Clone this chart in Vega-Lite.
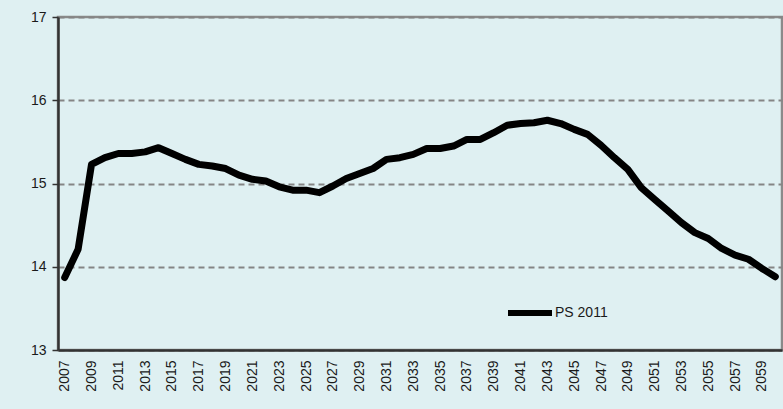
{
  "$schema": "https://vega.github.io/schema/vega-lite/v6.json",
  "width": 724,
  "height": 333,
  "autosize": {"type": "none"},
  "padding": {"left": 58, "top": 17, "right": 1, "bottom": 59},
  "background": "#dff0f2",
  "config": {
    "view": {"stroke": "#8a8a8a", "strokeWidth": 2.5},
    "font": "Liberation Sans",
    "axis": {"labelFont": "Liberation Sans", "labelFontSize": 14, "labelColor": "#1a1a1a", "title": null}
  },
  "data": {
    "values": [
      {"year": 2007, "value": 13.87, "series": "PS 2011"},
      {"year": 2008, "value": 14.21, "series": "PS 2011"},
      {"year": 2009, "value": 15.23, "series": "PS 2011"},
      {"year": 2010, "value": 15.31, "series": "PS 2011"},
      {"year": 2011, "value": 15.36, "series": "PS 2011"},
      {"year": 2012, "value": 15.36, "series": "PS 2011"},
      {"year": 2013, "value": 15.38, "series": "PS 2011"},
      {"year": 2014, "value": 15.43, "series": "PS 2011"},
      {"year": 2015, "value": 15.36, "series": "PS 2011"},
      {"year": 2016, "value": 15.29, "series": "PS 2011"},
      {"year": 2017, "value": 15.23, "series": "PS 2011"},
      {"year": 2018, "value": 15.21, "series": "PS 2011"},
      {"year": 2019, "value": 15.18, "series": "PS 2011"},
      {"year": 2020, "value": 15.1, "series": "PS 2011"},
      {"year": 2021, "value": 15.05, "series": "PS 2011"},
      {"year": 2022, "value": 15.03, "series": "PS 2011"},
      {"year": 2023, "value": 14.96, "series": "PS 2011"},
      {"year": 2024, "value": 14.92, "series": "PS 2011"},
      {"year": 2025, "value": 14.92, "series": "PS 2011"},
      {"year": 2026, "value": 14.89, "series": "PS 2011"},
      {"year": 2027, "value": 14.97, "series": "PS 2011"},
      {"year": 2028, "value": 15.06, "series": "PS 2011"},
      {"year": 2029, "value": 15.12, "series": "PS 2011"},
      {"year": 2030, "value": 15.18, "series": "PS 2011"},
      {"year": 2031, "value": 15.29, "series": "PS 2011"},
      {"year": 2032, "value": 15.31, "series": "PS 2011"},
      {"year": 2033, "value": 15.35, "series": "PS 2011"},
      {"year": 2034, "value": 15.42, "series": "PS 2011"},
      {"year": 2035, "value": 15.42, "series": "PS 2011"},
      {"year": 2036, "value": 15.45, "series": "PS 2011"},
      {"year": 2037, "value": 15.53, "series": "PS 2011"},
      {"year": 2038, "value": 15.53, "series": "PS 2011"},
      {"year": 2039, "value": 15.61, "series": "PS 2011"},
      {"year": 2040, "value": 15.7, "series": "PS 2011"},
      {"year": 2041, "value": 15.72, "series": "PS 2011"},
      {"year": 2042, "value": 15.73, "series": "PS 2011"},
      {"year": 2043, "value": 15.76, "series": "PS 2011"},
      {"year": 2044, "value": 15.72, "series": "PS 2011"},
      {"year": 2045, "value": 15.65, "series": "PS 2011"},
      {"year": 2046, "value": 15.59, "series": "PS 2011"},
      {"year": 2047, "value": 15.46, "series": "PS 2011"},
      {"year": 2048, "value": 15.31, "series": "PS 2011"},
      {"year": 2049, "value": 15.17, "series": "PS 2011"},
      {"year": 2050, "value": 14.95, "series": "PS 2011"},
      {"year": 2051, "value": 14.81, "series": "PS 2011"},
      {"year": 2052, "value": 14.67, "series": "PS 2011"},
      {"year": 2053, "value": 14.53, "series": "PS 2011"},
      {"year": 2054, "value": 14.41, "series": "PS 2011"},
      {"year": 2055, "value": 14.34, "series": "PS 2011"},
      {"year": 2056, "value": 14.22, "series": "PS 2011"},
      {"year": 2057, "value": 14.14, "series": "PS 2011"},
      {"year": 2058, "value": 14.09, "series": "PS 2011"},
      {"year": 2059, "value": 13.98, "series": "PS 2011"},
      {"year": 2060, "value": 13.88, "series": "PS 2011"}
    ]
  },
  "mark": {"type": "line", "strokeWidth": 7, "strokeJoin": "round", "strokeCap": "round"},
  "encoding": {
    "x": {
      "field": "year",
      "type": "quantitative",
      "scale": {"domain": [2006.5, 2060.5], "nice": false, "zero": false},
      "axis": {
        "values": [2007, 2009, 2011, 2013, 2015, 2017, 2019, 2021, 2023, 2025, 2027, 2029, 2031, 2033, 2035, 2037, 2039, 2041, 2043, 2045, 2047, 2049, 2051, 2053, 2055, 2057, 2059],
        "format": "d",
        "labelAngle": -90,
        "labelPadding": 10,
        "ticks": false,
        "grid": false,
        "domainColor": "#333333",
        "domainWidth": 2.5,
        "labelFlush": false,
        "labelOverlap": false
      }
    },
    "y": {
      "field": "value",
      "type": "quantitative",
      "scale": {"domain": [13, 17], "nice": false, "zero": false},
      "axis": {
        "values": [13, 14, 15, 16, 17],
        "format": "d",
        "tickSize": 6,
        "tickColor": "#333333",
        "tickWidth": 1.5,
        "labelPadding": 6,
        "domainColor": "#333333",
        "domainWidth": 2.5,
        "gridColor": "#858585",
        "gridDash": [6, 4],
        "gridWidth": 2,
        "labelFlush": false
      }
    },
    "color": {
      "field": "series",
      "type": "nominal",
      "scale": {"range": ["#000000"]},
      "legend": {
        "title": null,
        "orient": "none",
        "legendX": 447,
        "legendY": 271,
        "symbolType": "stroke",
        "symbolSize": 1936,
        "symbolStrokeWidth": 6,
        "symbolStrokeColor": "#000000",
        "labelFont": "Liberation Sans",
        "labelFontSize": 14,
        "labelColor": "#1a1a1a",
        "labelOffset": 0
      }
    }
  }
}
